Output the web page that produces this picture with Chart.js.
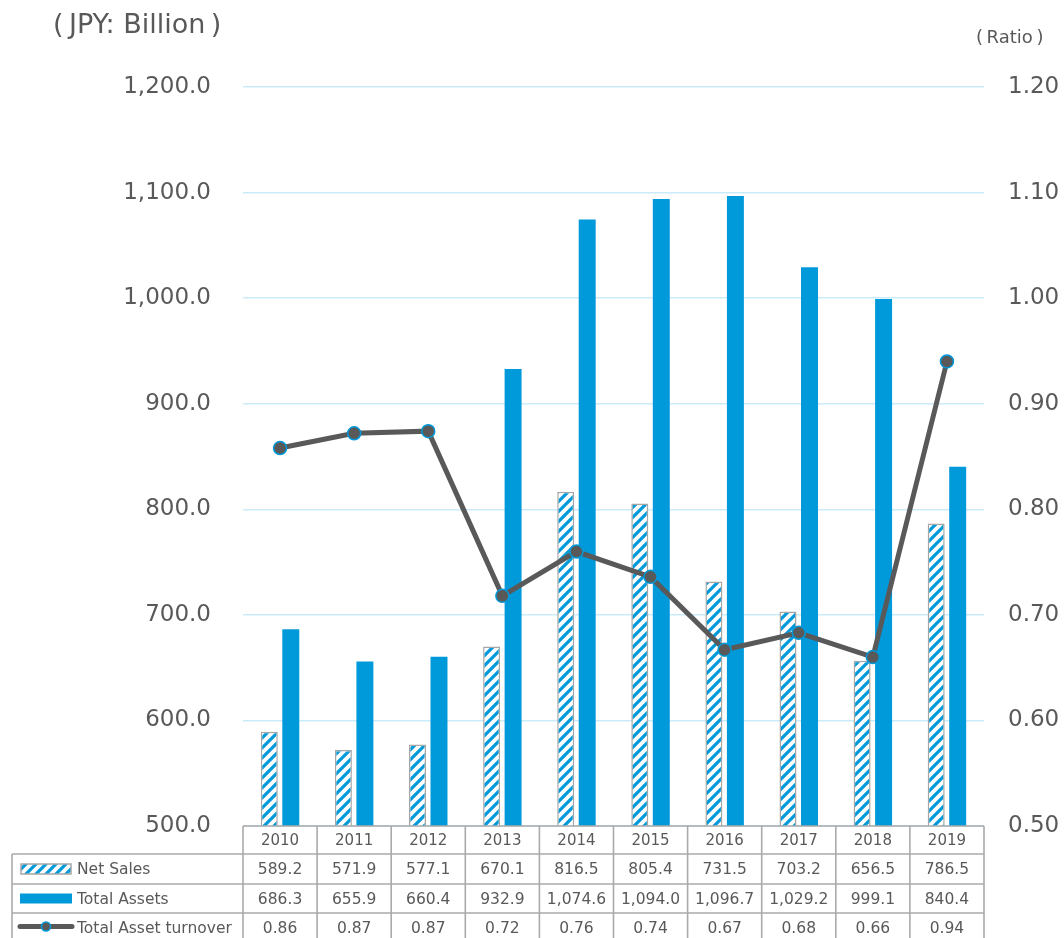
<!DOCTYPE html>
<html>
<head>
<meta charset="utf-8">
<script src="https://cdn.jsdelivr.net/npm/chart.js@4.4.1/dist/chart.umd.min.js"></script>
<style>
html,body{margin:0;padding:0;background:#fff;}
canvas{display:block;}
</style>
</head>
<body>
<canvas id="c" width="1064" height="938"></canvas>
<script>
const years = ['2010','2011','2012','2013','2014','2015','2016','2017','2018','2019'];
const netSales = [589.2, 571.9, 577.1, 670.1, 816.5, 805.4, 731.5, 703.2, 656.5, 786.5];
const totalAssets = [686.3, 655.9, 660.4, 932.9, 1074.6, 1094.0, 1096.7, 1029.2, 999.1, 840.4];
const turnover = [0.858, 0.872, 0.874, 0.718, 0.760, 0.736, 0.667, 0.683, 0.660, 0.940];
const netSalesLabels = ['589.2','571.9','577.1','670.1','816.5','805.4','731.5','703.2','656.5','786.5'];
const totalAssetsLabels = ['686.3','655.9','660.4','932.9','1,074.6','1,094.0','1,096.7','1,029.2','999.1','840.4'];
const turnoverLabels = ['0.86','0.87','0.87','0.72','0.76','0.74','0.67','0.68','0.66','0.94'];
const seriesNames = ['Net Sales','Total Assets','Total Asset turnover'];
const leftUnit = '(\u2009JPY: Billion\u2009)';
const rightUnit = '(\u2009Ratio\u2009)';

const BLUE = '#0099DA';
const GRAY = '#595959';
const TXT = '#595959';
const FONT = '"DejaVu Sans", Verdana, sans-serif';

function makePattern(ctx){
  const p = document.createElement('canvas');
  p.width = 10; p.height = 10;
  const g = p.getContext('2d');
  g.fillStyle = '#fff'; g.fillRect(0,0,10,10);
  g.strokeStyle = BLUE; g.lineWidth = 3.2;
  g.beginPath();
  g.moveTo(-2,12); g.lineTo(12,-2);
  g.moveTo(-7,7); g.lineTo(7,-7);
  g.moveTo(3,17); g.lineTo(17,3);
  g.stroke();
  return ctx.createPattern(p,'repeat');
}

const canvas = document.getElementById('c');
const ctx0 = canvas.getContext('2d');
const stripe = makePattern(ctx0);

const tablePlugin = {
  id: 'tablePlugin',
  afterDraw(chart){
    const ctx = chart.ctx;
    const x = chart.scales.x;
    const area = chart.chartArea;
    const n = years.length;
    const colW = (area.right - area.left) / n;
    const top = area.bottom;
    const rows = [top, top+28, top+58, top+87, top+116];
    const leftX = 12;
    ctx.save();
    // unit titles
    ctx.fillStyle = TXT;
    ctx.font = '27px ' + FONT;
    ctx.textAlign = 'left'; ctx.textBaseline = 'alphabetic';
    ctx.fillText(leftUnit, 53, 33);
    ctx.font = '18px ' + FONT;
    ctx.fillText(rightUnit, 976, 43);

    // grid lines
    ctx.strokeStyle = '#AAAAAA';
    ctx.lineWidth = 1.6;
    ctx.beginPath();
    ctx.moveTo(area.left, rows[0]); ctx.lineTo(area.right, rows[0]);
    ctx.moveTo(leftX, rows[1]); ctx.lineTo(area.right, rows[1]);
    ctx.moveTo(leftX, rows[2]); ctx.lineTo(area.right, rows[2]);
    ctx.moveTo(leftX, rows[3]); ctx.lineTo(area.right, rows[3]);
    ctx.moveTo(leftX, rows[1]); ctx.lineTo(leftX, 940);
    for (let i=0;i<=n;i++){
      const xx = area.left + i*colW;
      ctx.moveTo(xx, rows[0]); ctx.lineTo(xx, 940);
    }
    ctx.stroke();

    // cell text
    ctx.fillStyle = TXT;
    ctx.textAlign = 'center'; ctx.textBaseline = 'middle';
    const rowData = [years, netSalesLabels, totalAssetsLabels, turnoverLabels];
    for (let r=0;r<4;r++){
      ctx.font = (r === 0 ? '15px ' : '15.5px ') + FONT;
      const cy = (rows[r]+rows[r+1])/2 + 1;
      for (let i=0;i<n;i++){
        const cx = x.getPixelForValue(i);
        ctx.fillText(rowData[r][i], cx, cy);
      }
    }
    // legend labels
    ctx.textAlign = 'left';
    ctx.font = '15.5px ' + FONT;
    for (let r=0;r<3;r++){
      const cy = (rows[r+1]+rows[r+2])/2 + 1;
      ctx.fillText(seriesNames[r], 77, cy);
    }
    // legend symbols
    let cy = (rows[1]+rows[2])/2;
    ctx.fillStyle = stripe;
    ctx.fillRect(21, cy-5, 50, 10);
    ctx.strokeStyle = '#A6A6A6'; ctx.lineWidth = 1.5;
    ctx.strokeRect(21, cy-5, 50, 10);
    cy = (rows[2]+rows[3])/2;
    ctx.fillStyle = BLUE;
    ctx.fillRect(20, cy-5, 52, 10);
    cy = (rows[3]+rows[4])/2 - 1;
    ctx.strokeStyle = GRAY; ctx.lineWidth = 5; ctx.lineCap = 'round';
    ctx.beginPath(); ctx.moveTo(20, cy); ctx.lineTo(72, cy); ctx.stroke();
    ctx.beginPath(); ctx.arc(46, cy, 4.5, 0, Math.PI*2);
    ctx.fillStyle = GRAY; ctx.fill();
    ctx.strokeStyle = BLUE; ctx.lineWidth = 1.5; ctx.stroke();
    ctx.restore();
  }
};

new Chart(canvas, {
  data: {
    labels: years,
    datasets: [
      {
        type: 'line', label: seriesNames[2], data: turnover, yAxisID: 'y1', order: 0,
        borderColor: GRAY, borderWidth: 5, pointRadius: 6.5, pointBackgroundColor: GRAY,
        pointBorderColor: BLUE, pointBorderWidth: 1.5, tension: 0
      },
      {
        type: 'bar', label: seriesNames[0], data: netSales, yAxisID: 'y', order: 1,
        backgroundColor: stripe, borderColor: '#A6A6A6', borderWidth: 1.5,
        categoryPercentage: 0.58, barPercentage: 0.79
      },
      {
        type: 'bar', label: seriesNames[1], data: totalAssets, yAxisID: 'y', order: 1,
        backgroundColor: BLUE, borderWidth: 0,
        categoryPercentage: 0.58, barPercentage: 0.79
      }
    ]
  },
  options: {
    responsive: false,
    animation: false,
    layout: { padding: { top: 87, bottom: 112, left: 0, right: 0 } },
    plugins: { legend: { display: false }, tooltip: { enabled: false } },
    scales: {
      x: { display: false, offset: true },
      y: {
        position: 'left', min: 500, max: 1200,
        ticks: { stepSize: 100, padding: 32, color: TXT, font: { family: FONT, size: 23 },
          callback: v => v.toLocaleString('en-US', {minimumFractionDigits:1, maximumFractionDigits:1}) },
        grid: { color: '#C9EBFA', lineWidth: 1.5, drawTicks: false },
        border: { display: false },
        afterFit: s => { s.width = 243; }
      },
      y1: {
        position: 'right', min: 0.5, max: 1.2,
        ticks: { stepSize: 0.1, padding: 24, color: TXT, font: { family: FONT, size: 23 },
          callback: v => v.toFixed(2) },
        grid: { display: false, drawTicks: false },
        border: { display: false },
        afterFit: s => { s.width = 80; }
      }
    }
  },
  plugins: [tablePlugin]
});
</script>
</body>
</html>
